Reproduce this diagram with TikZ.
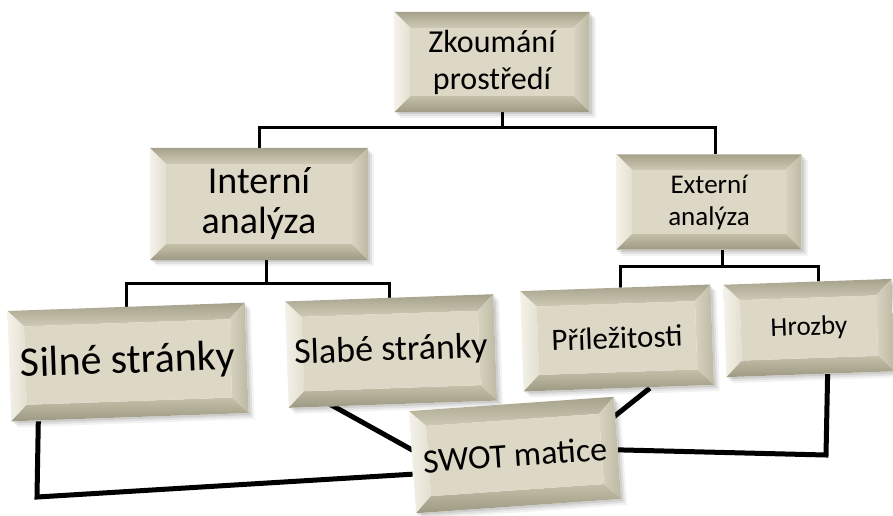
\documentclass[tikz,border=0pt]{standalone}
\usepackage{fontspec}
\setmainfont{Carlito}
\usetikzlibrary{calc,backgrounds}

\definecolor{face}{HTML}{DDD8C5}
\definecolor{bvtop}{HTML}{A6A18B}
\definecolor{bvtopin}{HTML}{CFCAB5}
\definecolor{bvleft}{HTML}{F4F2EA}
\definecolor{bvleftin}{HTML}{E3DFD0}
\definecolor{bvright}{HTML}{BDB8A2}
\definecolor{bvrightin}{HTML}{D8D3BF}
\definecolor{bvbot}{HTML}{9E9982}
\definecolor{bvbotin}{HTML}{C4BFA9}

\pgfdeclarelayer{lines}
\pgfdeclarelayer{bevels}
\pgfsetlayers{lines,bevels,main}

\newcommand\fsz[2]{\fontsize{#1}{#2}\selectfont}
\def\bw{16pt}
\newcommand\bevel[1]{%
  \begin{pgfonlayer}{bevels}
  \coordinate (NW) at (#1.north west);
  \coordinate (NE) at (#1.north east);
  \coordinate (SE) at (#1.south east);
  \coordinate (SW) at (#1.south west);
  \coordinate (iNW) at ($(NW)!\bw!(NE)!\bw!-90:(NE)$);
  \coordinate (iNE) at ($(NE)!\bw!(NW)!\bw!90:(NW)$);
  \coordinate (iSE) at ($(SE)!\bw!(SW)!\bw!-90:(SW)$);
  \coordinate (iSW) at ($(SW)!\bw!(SE)!\bw!90:(SE)$);
  \foreach \s/\o in {6pt/.05,4pt/.07,2pt/.09}
    \fill[black, opacity=\o] ([xshift=\s,yshift=-\s]NW) -- ([xshift=\s,yshift=-\s]NE)
      -- ([xshift=\s,yshift=-\s]SE) -- ([xshift=\s,yshift=-\s]SW) -- cycle;
  \fill[white] (NW) -- (NE) -- (SE) -- (SW) -- cycle;
  \shade[top color=bvtop, bottom color=bvtopin] (NW) -- (NE) -- (iNE) -- (iNW) -- cycle;
  \shade[left color=bvleft, right color=bvleftin] (NW) -- (iNW) -- (iSW) -- (SW) -- cycle;
  \shade[left color=bvrightin, right color=bvright] (NE) -- (SE) -- (iSE) -- (iNE) -- cycle;
  \shade[top color=bvbotin, bottom color=bvbot] (SW) -- (iSW) -- (iSE) -- (SE) -- cycle;
  \fill[face] (iNW) -- (iNE) -- (iSE) -- (iSW) -- cycle;
  \end{pgfonlayer}}

\begin{document}
\begin{tikzpicture}[x=1pt, y=-1pt,
  box/.style={rectangle, inner sep=0pt, align=center},
  tree/.style={line width=3pt},
  link/.style={line width=5pt}]
\useasboundingbox (0,0) rectangle (893,515);

\node[box, minimum width=195pt, minimum height=100pt, font=\fsz{32}{37}] (zkoum) at (492,62) {Zkoumání\\prostředí};
\node[box, minimum width=218pt, minimum height=112pt, font=\fsz{38}{40}] (intern) at (259,204) {Interní\\analýza};
\node[box, minimum width=185pt, minimum height=95pt, font=\fsz{27}{32}] (extern) at (709,202) {Externí\\analýza};
\node[box, minimum width=237pt, minimum height=110pt, rotate=2, font=\fsz{42}{44}] (silne) at (128,362) {Silné stránky};
\node[box, minimum width=208pt, minimum height=106pt, rotate=2, font=\fsz{36}{40}] (slabe) at (391,351) {Slabé stránky};
\node[box, minimum width=190pt, minimum height=100pt, rotate=2, font=\fsz{31}{36}] (prilez) at (617,338) {Příležitosti};
\node[box, minimum width=168pt, minimum height=92pt, rotate=2, font=\fsz{27}{30}] (hrozby) at (809,328) {Hrozby};
\node[box, minimum width=205pt, minimum height=102pt, rotate=4, font=\fsz{34}{38}] (swot) at (515,455) {SWOT matice};

\foreach \n in {zkoum,intern,extern,silne,slabe,prilez,hrozby,swot} \bevel{\n};

\coordinate (sbend) at (37,497);
\coordinate (hbend) at (826,455);

% spojnice
\begin{pgfonlayer}{lines}
\draw[tree] ([xshift=10pt]zkoum.south) -- ++(0,15) -| (intern.north);
\draw[tree] ([xshift=10pt]zkoum.south) -- ++(0,15) -| ([xshift=6pt]extern.north);
\draw[tree] ([xshift=7pt]intern.south) -- ++(0,23) -| (silne.north);
\draw[tree] ([xshift=7pt]intern.south) -- ++(0,23) -| (slabe.north);
\draw[tree] ([xshift=13pt]extern.south) -- ++(0,17) -| ([xshift=5pt]prilez.north);
\draw[tree] ([xshift=13pt]extern.south) -- ++(0,17) -| ([xshift=11pt]hrozby.north);
\draw[link] ([xshift=-63pt]slabe.south) -- ([yshift=12pt]swot.west);
\draw[link] ([xshift=31pt]prilez.south) -- ([yshift=-20pt]swot.north east);
\draw[link] ([xshift=27pt]silne.south west) -- (sbend) -- ([yshift=-12pt]swot.west);
\draw[link] ([xshift=17pt]hrozby.south) -- (hbend) -- ([yshift=-2pt]swot.east);
\end{pgfonlayer}
\end{tikzpicture}
\end{document}
